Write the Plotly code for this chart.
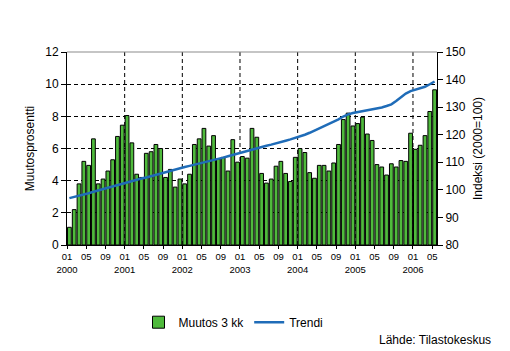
import plotly.graph_objects as go

# Monthly data 2000-01 .. 2006-05
muutos = [1.1, 2.2, 3.8, 5.2, 4.95, 6.6, 3.8, 4.1, 4.6, 5.3, 6.75, 7.45,
          8.05, 6.35, 4.4, 4.2, 5.7, 5.8, 6.25, 6.0, 4.2, 4.7, 3.6, 4.1,
          3.8, 4.4, 6.25, 6.6, 7.25, 6.15, 6.8, 5.35, 5.45, 4.6, 6.55, 5.15,
          5.5, 5.4, 7.25, 6.7, 4.45, 3.85, 4.1, 4.9, 5.2, 4.45, 3.95, 5.45,
          6.0, 5.75, 4.5, 4.15, 4.95, 4.95, 4.6, 5.1, 6.25, 7.8, 8.2, 7.4,
          7.55, 7.95, 6.9, 6.5, 5.0, 4.85, 4.35, 5.05, 4.85, 5.25, 5.2, 6.95,
          5.95, 6.2, 6.8, 8.3, 9.65]

trendi = [97.0, 97.4, 97.9, 98.4, 98.8, 99.3, 99.8, 100.3, 100.8, 101.3, 101.8, 102.2,
          102.7, 103.2, 103.6, 104.1, 104.5, 105.0, 105.5, 106.0, 106.5, 107.0, 107.5, 107.9,
          108.3, 108.7, 109.1, 109.6, 110.0, 110.5, 110.9, 111.3, 111.7, 112.2, 112.7, 113.2,
          113.7, 114.2, 114.7, 115.2, 115.6, 116.0, 116.4, 116.8, 117.3, 117.8, 118.3, 118.8,
          119.4, 120.0, 120.7, 121.5, 122.3, 123.1, 123.9, 124.7, 125.6, 126.6, 127.4, 127.9,
          128.2, 128.5, 128.8, 129.1, 129.5, 129.9, 130.4, 131.0, 132.2, 133.5, 134.9, 135.8,
          136.3, 136.8, 137.4, 138.3, 139.3]

years = list(range(2000, 2007))
months = [(y, m) for y in years for m in range(1, 13)][:len(muutos)]
x = list(range(len(muutos)))

tickvals = [i - 0.5 for i in x if i % 4 == 0]
ticktext = []
for i in x:
    if i % 4 == 0:
        y, m = months[i]
        ticktext.append(f"{m:02d}" + (f"<br>{y}" if m == 1 else ""))

FONT = "Liberation Sans, Arial, sans-serif"
DASH = "4px,3px"

fig = go.Figure()
fig.add_trace(go.Bar(x=x, y=muutos, name="Muutos 3 kk",
                     marker=dict(color="#4fba3c", line=dict(color="black", width=1)),
                     yaxis="y"))
fig.add_trace(go.Scatter(x=x, y=trendi, name="Trendi", mode="lines",
                         line=dict(color="#1f6cb8", width=2.5), yaxis="y2"))

shapes = []
for i in x:
    if months[i][1] == 1 and i > 0:
        shapes.append(dict(type="line", xref="x", yref="paper", x0=i - 0.5, x1=i - 0.5,
                           y0=0, y1=1, line=dict(color="black", width=1, dash=DASH),
                           layer="below"))
shapes.append(dict(type="line", xref="paper", yref="paper", x0=0, x1=1, y0=1, y1=1,
                   line=dict(color="#8c8c8c", width=1.2)))

fig.update_layout(
    width=510, height=351,
    margin=dict(l=67, r=73, t=52, b=106),
    paper_bgcolor="white", plot_bgcolor="white",
    font=dict(family=FONT, size=12, color="black"),
    bargap=0.22,
    showlegend=True,
    legend=dict(orientation="h", x=0.45, y=-0.40, xanchor="center", yanchor="middle",
                font=dict(size=12), bgcolor="rgba(0,0,0,0)"),
    xaxis=dict(range=[-0.5, len(x) - 0.5], tickmode="array", tickvals=tickvals,
               ticktext=ticktext, tickangle=0, tickfont=dict(size=9.5),
               showgrid=False, zeroline=False, showline=True, linecolor="black",
               linewidth=1, ticks="outside", ticklen=3, tickcolor="black"),
    yaxis=dict(range=[0, 12], dtick=2, showgrid=True, gridcolor="black", griddash=DASH,
               gridwidth=1, zeroline=False, showline=True, linecolor="black", linewidth=1,
               ticks="outside", ticklen=5, tickcolor="black", tickfont=dict(size=12),
               title=dict(text="Muutosprosentti", font=dict(size=12), standoff=8)),
    yaxis2=dict(range=[80, 150], dtick=10, overlaying="y", side="right", showgrid=False,
                zeroline=False, showline=True, linecolor="black", linewidth=1,
                ticks="outside", ticklen=5, tickcolor="black", tickfont=dict(size=12),
                title=dict(text="Indeksi (2000=100)", font=dict(size=12), standoff=8)),
    shapes=shapes,
    annotations=[dict(text="Lähde: Tilastokeskus", xref="paper", yref="paper",
                      x=1.151, y=-0.49, xanchor="right", yanchor="middle",
                      showarrow=False, font=dict(size=12))],
)

fig.write_html("out.html")
